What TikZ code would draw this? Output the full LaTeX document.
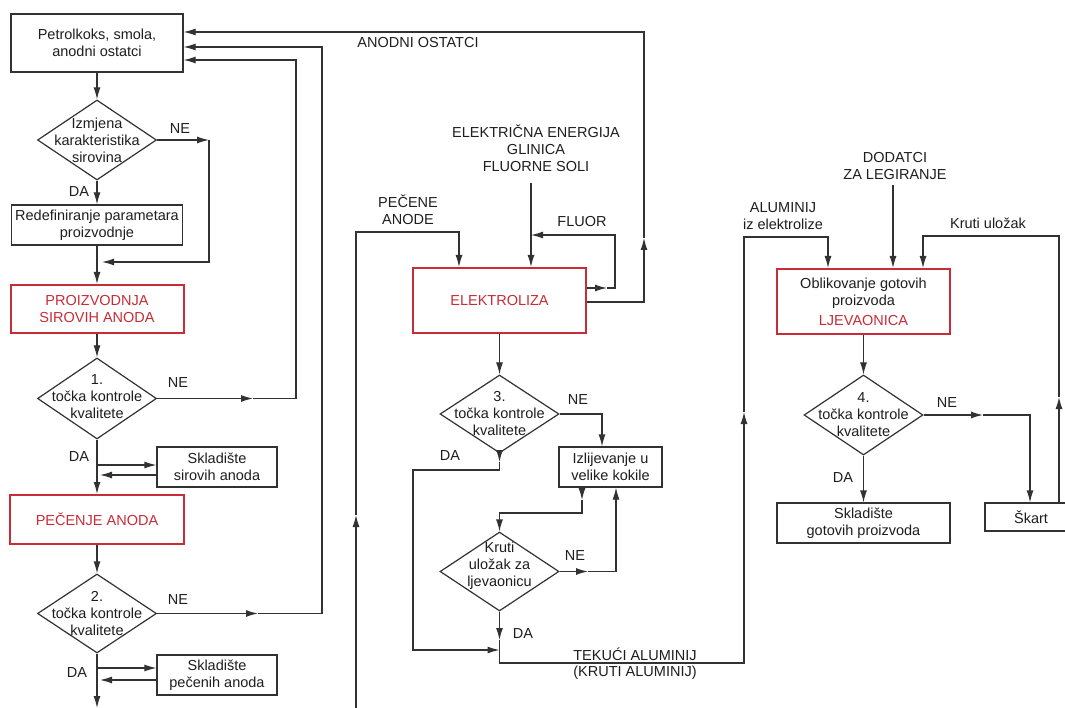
\documentclass[tikz,border=0pt]{standalone}
\usepackage{fontspec}
\setmainfont{Liberation Sans}
\usetikzlibrary{shapes.geometric,arrows.meta}
\definecolor{ln}{RGB}{50,50,50}
\definecolor{rd}{RGB}{200,45,55}
\definecolor{tx}{RGB}{30,30,30}
\begin{document}
\begin{tikzpicture}[x=1pt,y=-1pt,
  every node/.style={font=\fontsize{14.5}{17}\selectfont, text=tx, align=center, inner sep=0pt},
  box/.style n args={2}{draw=ln, line width=1.2pt, minimum width=#1, minimum height=#2},
  redbox/.style n args={2}{draw=rd, line width=2pt, minimum width=#1, minimum height=#2, text=rd},
  dia/.style={draw=ln, line width=1.2pt, diamond, minimum width=119pt, minimum height=80pt},
  cn/.style={draw=ln, line width=1.2pt},
  arr/.style={-{Latex[length=12pt,width=7pt]}}
]
\fill[white] (0,0) rectangle (1065,708);
\clip (0,0) rectangle (1065,708);

% ---------- left column ----------
\node[box={172pt}{58pt}] (b1) at (97,43) {Petrolkoks, smola,\\anodni ostatci};
\node[dia] (d1) at (97,140) {};
\node (d1t) at (d1.center) {Izmjena\\karakteristika\\sirovina};
\node[box={171pt}{40pt}] (b2) at (97,225) {Redefiniranje parametara\\proizvodnje};
\node[redbox={173pt}{48pt}] (b3) at (97,309) {PROIZVODNJA\\SIROVIH ANODA};
\node[dia, minimum height=81pt] (d2) at (97,398.5) {};
\node (d2t) at ([yshift=2pt]d2.center) {1.\\točka kontrole\\kvalitete};
\node[box={120pt}{40pt}] (s1) at (217,467) {Skladište\\sirovih anoda};
\node[redbox={174pt}{49pt}] (b4) at (97,519.5) {PEČENJE ANODA};
\node[dia, minimum height=79pt] (d3) at (97,613.5) {};
\node (d3t) at (d3.center) {2.\\točka kontrole\\kvalitete};
\node[box={120pt}{40pt}] (s2) at (217,675) {Skladište\\pečenih anoda};

% ---------- middle ----------
\node[redbox={173pt}{65pt}] (el) at (499.5,300.5) {ELEKTROLIZA};
\node[dia, minimum height=78pt] (d4) at (499.5,414) {};
\node (d4t) at (d4.center) {3.\\točka kontrole\\kvalitete};
\node[box={103pt}{40pt}] (iz) at (610.5,467) {Izlijevanje u\\velike kokile};
\node[dia, minimum height=79pt] (d5) at (499.5,571.5) {};
\node (d5t) at ([yshift=6pt]d5.center) {Kruti\\uložak za\\ljevaonicu};

% ---------- right ----------
\node[redbox={173pt}{65pt}, text=tx] (lj) at (863.5,301.5) {Oblikovanje gotovih\\proizvoda\\[3pt]\textcolor{rd}{LJEVAONICA}};
\node[dia] (d6) at (863.5,415) {};
\node (d6t) at (d6.center) {4.\\točka kontrole\\kvalitete};
\node[box={173pt}{40pt}] (s3) at (863.5,523) {Skladište\\gotovih proizvoda};
\node[box={92pt}{28pt}] (sk) at (1031,517) {Škart};

% ---------- labels ----------
\node (lao) at (418,43) {ANODNI OSTATCI};
\node (lein) at (536,148) {ELEKTRIČNA ENERGIJA\\GLINICA\\FLUORNE SOLI};
\node (lpa) at (408,210) {PEČENE\\ANODE};
\node (lfl) at (582,222) {FLUOR};
\node (lal) at (783,216.5) {ALUMINIJ\\iz elektrolize};
\node (ldo) at (895,166.5) {DODATCI\\ZA LEGIRANJE};
\node (lku) at (988,223) {Kruti uložak};
\node (lte1) at (635,654) {TEKUĆI ALUMINIJ};
\node (lte2) at (635,673) {(KRUTI ALUMINIJ)};
\node (ne1) at (180,129) {NE};
\node (ne2) at (178,383) {NE};
\node (ne3) at (178,600) {NE};
\node (ne4) at (578,400) {NE};
\node (ne5) at (575,556) {NE};
\node (ne6) at (947,403) {NE};
\node (da1) at (79,192) {DA};
\node (da2) at (79,457) {DA};
\node (da3) at (77,673) {DA};
\node (da4) at (450,456) {DA};
\node (da5) at (523,634) {DA};
\node (da6) at (843,478) {DA};

% ---------- left connectors ----------
\draw[cn,arr] (b1) -- (d1);
\coordinate (k1) at (209,140);
\coordinate (k2) at (209,262);
\draw[cn,arr] (d1.east) -- (k1);
\draw[cn,arr,shorten >=5pt] (k1) -- (k2) -- (k2 -| b2.south);
\draw[cn,arr] (d1) -- (b2);
\draw[cn,arr] (b2) -- (b3);
\draw[cn,arr] (b3) -- (d2);

\coordinate (a1) at (253,398.5);
\coordinate (k3) at (296,398.5);
\draw[cn,arr] (d2.east) -- (a1);
\draw[cn,arr] (a1) -- (k3) |- ([yshift=-17pt]b1.east);

\draw[cn,arr] (d2) -- (b4);
\coordinate (s1o) at ([yshift=2pt]s1.west);
\coordinate (s1i) at ([yshift=-8pt]s1.west);
\draw[cn,arr] (s1o -| d2.south) -- (s1o);
\draw[cn,arr,shorten >=3pt] (s1i) -- (s1i -| d2.south);

\draw[cn,arr] (b4) -- (d3);
\coordinate (a2) at (258,613.5);
\coordinate (k4) at (322,613.5);
\draw[cn,arr] (d3.east) -- (a2);
\draw[cn,arr] (a2) -- (k4) |- ([yshift=-4pt]b1.east);

\coordinate (bot1) at (97,708);
\draw[cn,arr] (d3) -- (bot1);
\coordinate (s2o) at ([yshift=7pt]s2.west);
\coordinate (s2i) at ([yshift=-5pt]s2.west);
\draw[cn,arr] (s2o -| d3.south) -- (s2o);
\draw[cn,arr,shorten >=3pt] (s2i) -- (s2i -| d3.south);

% ---------- middle connectors ----------
\coordinate (m0) at (356,708);
\coordinate (ma) at (356,515);
\coordinate (m1) at (356,232);
\coordinate (m2) at (459,232);
\draw[cn,arr] (m0) -- (ma);
\draw[cn,arr] (ma) -- (m1) -- (m2) -- (m2 |- el.north);

\coordinate (e0) at (531,183);
\draw[cn,arr] (e0) -- (e0 |- el.north);

\coordinate (f0) at ([yshift=12.5pt]el.east);
\coordinate (fa) at (607,288);
\coordinate (f1) at (615,288);
\coordinate (f2) at (615,235);
\draw[cn,arr] (f0) -- (fa);
\draw[cn,arr] (fa) -- (f1) -- (f2) -- (f2 -| e0);

\coordinate (g0) at ([yshift=-1.5pt]el.east);
\coordinate (g1) at (644,302);
\coordinate (ga) at (644,238);
\draw[cn,arr] (g0) -- (g1) -- (ga);
\draw[cn,arr] (ga) |- ([yshift=11pt]b1.east);

\draw[cn,arr] (el) -- (d4);
\coordinate (h1) at (602,414);
\draw[cn,arr] (d4.east) -- (h1) -- (h1 |- iz.north);

\coordinate (j0) at (499.5,462);
\coordinate (j1) at (499.5,470);
\coordinate (j2) at (413,470);
\coordinate (j3) at (413,650);
\coordinate (j4) at (499.5,650);
\draw[cn,arr] (d4.south) -- (j0);
\draw[cn,arr] (j0) -- (j1) -- (j2) -- (j3) -- (j4);

\coordinate (i0) at ([xshift=-28.5pt]iz.south);
\coordinate (ia) at (582,500);
\coordinate (i1) at (582,513);
\draw[cn,arr] (i0) -- (ia);
\draw[cn,arr] (ia) -- (i1) -| (d5.north);

\coordinate (n0) at (588,571.5);
\coordinate (n1) at (616,571.5);
\draw[cn,arr] (d5.east) -- (n0);
\draw[cn,arr] (n0) -- (n1) -- (n1 |- iz.south);

\coordinate (p0) at (499.5,640);
\coordinate (p1) at (499.5,663);
\coordinate (p2) at (744,663);
\coordinate (pa) at (744,412);
\coordinate (p3) at (744,237);
\coordinate (p4) at (828,237);
\draw[cn,arr] (d5.south) -- (p0);
\draw[cn,arr] (p0) -- (p1) -- (p2) -- (pa);
\draw[cn,arr] (pa) -- (p3) -- (p4) -- (p4 |- lj.north);

% ---------- right connectors ----------
\coordinate (q0) at (893,185);
\draw[cn,arr] (q0) -- (q0 |- lj.north);

\coordinate (r0) at ([xshift=28pt]sk.north);
\coordinate (ra) at (1059,397);
\coordinate (r1) at (1059,236);
\coordinate (r2) at (923,236);
\draw[cn,arr] (r0) -- (ra);
\draw[cn,arr] (ra) -- (r1) -- (r2) -- (r2 |- lj.north);

\draw[cn,arr] (lj) -- (d6);
\draw[cn,arr] (d6) -- (s3);
\coordinate (t0) at (983,415);
\coordinate (t1) at (1030,415);
\draw[cn,arr] (d6.east) -- (t0);
\draw[cn,arr] (t0) -- (t1) -- (t1 |- sk.north);
\end{tikzpicture}
\end{document}
